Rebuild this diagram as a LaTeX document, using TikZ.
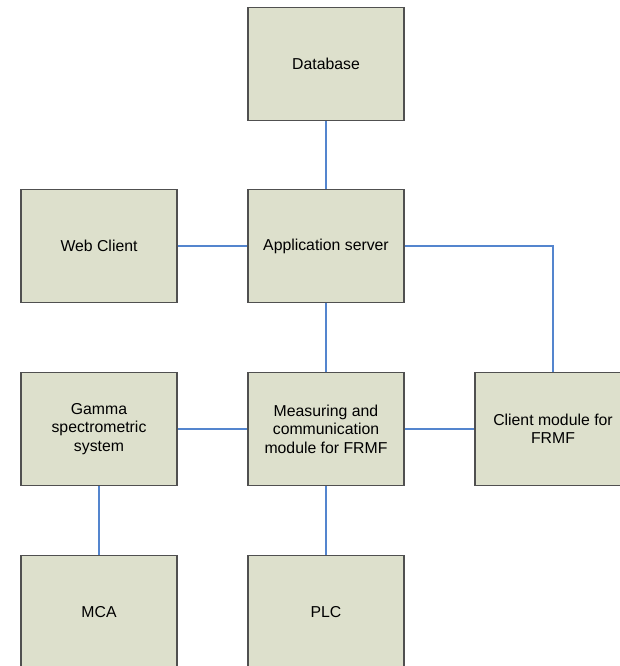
\documentclass[tikz,border=0pt]{standalone}
\usepackage{fontspec}
\setmainfont{Liberation Sans}
\usepackage{tikz}

\definecolor{boxfill}{RGB}{221,224,204}
\definecolor{boxline}{RGB}{80,80,80}
\definecolor{linkblue}{RGB}{84,133,206}

\begin{document}
\begin{tikzpicture}[x=1pt,y=-1pt,
  block/.style={draw=boxline,fill=boxfill,line width=1.2pt,minimum width=156pt,minimum height=113pt,
    align=center,inner sep=2pt,font=\fontsize{15.8}{18.5}\selectfont},
  link/.style={draw=linkblue,line width=1.4pt}]
\useasboundingbox (0,0) rectangle (620,666);
\clip (0,0) rectangle (620,666);
\node[block] (db) at (326,64) {Database};
\node[block] (web) at (99,246) {Web Client};
\node[block] (app) at (326,246) {Application server};
\node[block] (gamma) at (99,429) {Gamma\\spectrometric\\system};
\node[block] (meas) at (326,429) {Measuring and\\communication\\module for FRMF};
\node[block] (client) at (553,429) {Client module for\\FRMF};
\node[block] (mca) at (99,612) {MCA};
\node[block] (plc) at (326,612) {PLC};
\draw[link] (db) -- (app);
\draw[link] (web) -- (app);
\draw[link] (app) -- (meas);
\draw[link] (app.east) -| (client.north);
\draw[link] (gamma) -- (meas);
\draw[link] (meas) -- (client);
\draw[link] (gamma) -- (mca);
\draw[link] (meas) -- (plc);
\end{tikzpicture}
\end{document}
